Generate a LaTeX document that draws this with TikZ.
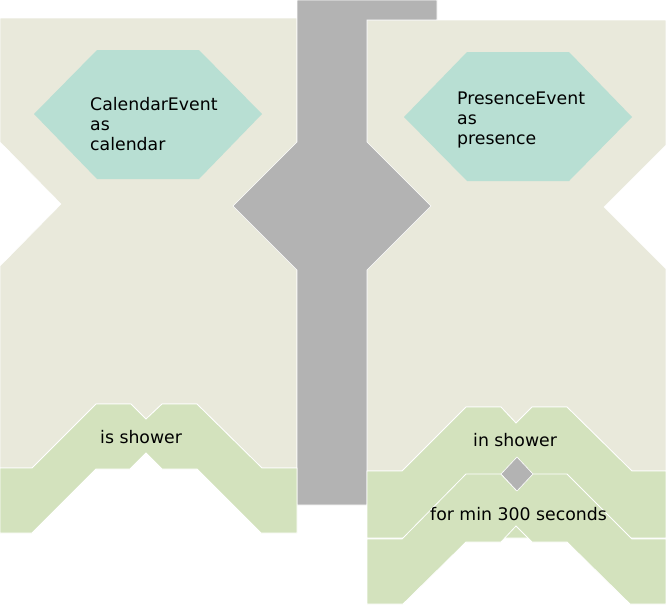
\documentclass[tikz,border=0pt]{standalone}
\usepackage{fontspec}
\setmainfont{DejaVu Sans}
\definecolor{beige}{HTML}{E9E9DB}
\definecolor{leaf}{HTML}{D3E2BD}
\definecolor{teal}{HTML}{B8DFD3}
\definecolor{stone}{HTML}{B3B3B3}
\begin{document}
\begin{tikzpicture}[x=1pt,y=-1pt,
  area/.style={fill=beige,draw=white,line width=0.6pt},
  joint/.style={fill=stone,draw=white,line width=0.6pt},
  blockshape/.style={fill=leaf,draw=white,line width=0.8pt},
  hexa/.style={fill=teal,draw=none},
  lbl/.style={inner sep=0pt,anchor=base west,font=\fontsize{17.3}{20}\selectfont,text=black}]
\useasboundingbox (0,0) rectangle (666,606);
% containers
\path[area] (0,18) -- (297,18) -- (297,468) -- (262,468) -- (197,404) -- (162,404) -- (146,419) -- (131,404) -- (96,404) -- (32,468) -- (0,468) -- (0,266) -- (61,204) -- (0,142) -- cycle;
\path[area] (367,20) -- (666,20) -- (666,145) -- (604,207) -- (666,269) -- (666,471) -- (632,471) -- (567,407) -- (532,407) -- (516,423) -- (501,407) -- (466,407) -- (402,471) -- (367,471) -- cycle;
% grey connector
\path[joint] (297,0) -- (437,0) -- (437,20) -- (367,20) -- (367,142) -- (431,206) -- (367,270) -- (367,505) -- (297,505) -- (297,270) -- (233,206) -- (297,142) -- cycle;
% left block
\path[blockshape] (0,468) -- (32,468) -- (96,404) -- (131,404) -- (146,419) -- (162,404) -- (197,404) -- (262,468) -- (297,468) -- (297,533) -- (261,533) -- (197,469) -- (162,469) -- (146,453) -- (130,469) -- (96,469) -- (32,533) -- (0,533) -- cycle;
% right block 1
\path[blockshape] (367,471) -- (402,471) -- (466,407) -- (501,407) -- (516,423) -- (532,407) -- (567,407) -- (632,471) -- (666,471) -- (666,538) -- (367,538) -- cycle;
% right block 2
\path[blockshape] (367,539) -- (402,539) -- (466,474) -- (501,474) -- (516,490) -- (532,474) -- (567,474) -- (632,539) -- (666,539) -- (666,604) -- (630,604) -- (567,542) -- (532,542) -- (516,526) -- (501,542) -- (466,542) -- (403,604) -- (367,604) -- cycle;
% small joint diamond
\path[joint] (517,457) -- (533,474) -- (517,491) -- (501,474) -- cycle;
% hexagons
\path[hexa] (34,114) -- (97,50) -- (199,50) -- (262,114) -- (199,179) -- (97,179) -- cycle;
\path[hexa] (404,117) -- (467,52) -- (569,52) -- (632,117) -- (569,181) -- (467,181) -- cycle;
% labels
\node[lbl] (cal1) at (90,110) {CalendarEvent};
\node[lbl] (cal2) at (90,130) {as};
\node[lbl] (cal3) at (90,150) {calendar};
\node[lbl] (pres1) at (457,104) {PresenceEvent};
\node[lbl] (pres2) at (457,124) {as};
\node[lbl] (pres3) at (457,144) {presence};
\node[lbl] (isshower) at (100,443) {is shower};
\node[lbl] (inshower) at (473,446) {in shower};
\node[lbl] (formin) at (430,520) {for min 300 seconds};
\end{tikzpicture}
\end{document}
